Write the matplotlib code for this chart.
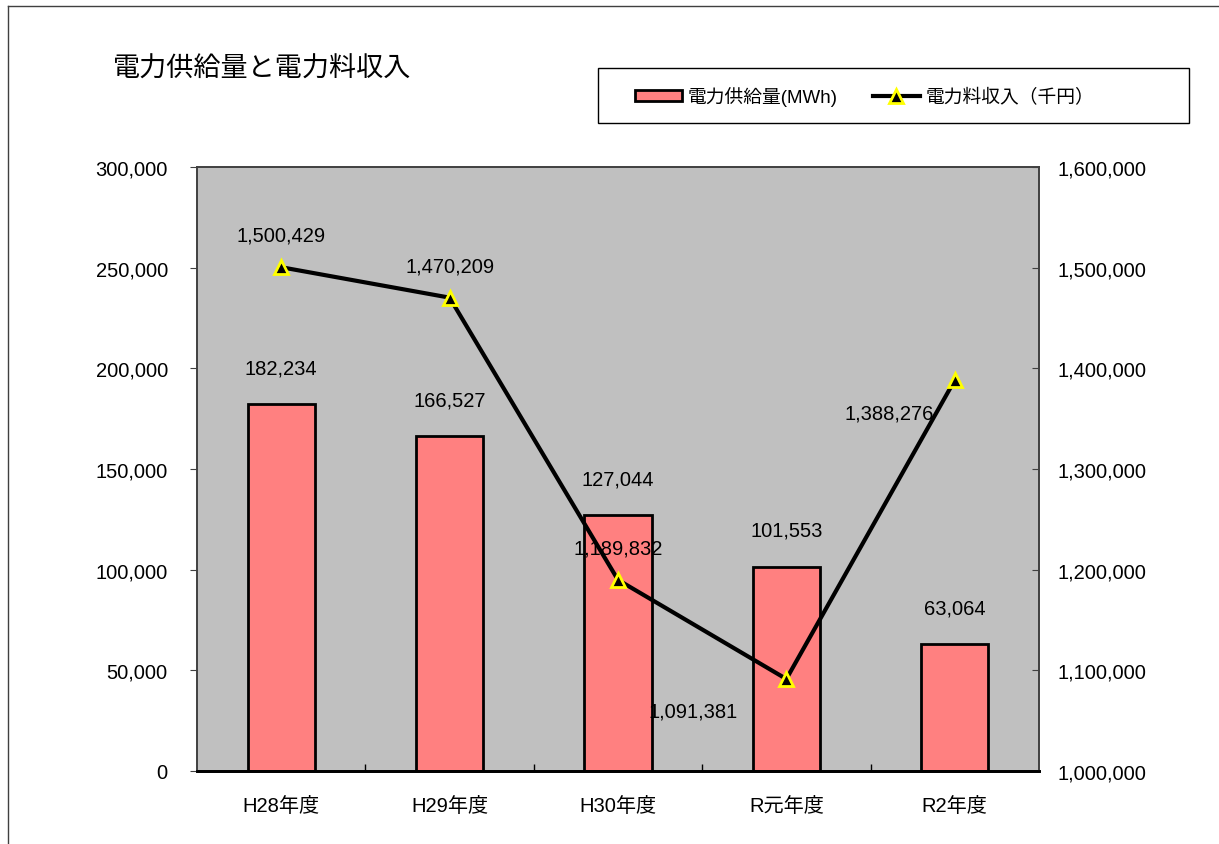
import matplotlib.pyplot as plt
from matplotlib.lines import Line2D
from matplotlib.patches import Rectangle
from matplotlib.ticker import FuncFormatter

plt.rcParams['font.family'] = ['Liberation Sans', 'Noto Sans CJK JP', 'DejaVu Sans']

# 年度別データ
nendo = ['H28年度', 'H29年度', 'H30年度', 'R元年度', 'R2年度']
kyokyu = [182234, 166527, 127044, 101553, 63064]        # 電力供給量 (MWh)
ryokin = [1500429, 1470209, 1189832, 1091381, 1388276]  # 電力料収入 (千円)
# 料金ラベルの位置 (点単位のずれ)
ryokin_ofs = [(0, 23), (0, 23), (0, 23), (-67, -23), (-47, -24)]

fmt = FuncFormatter(lambda v, p: f'{v:,.0f}')

fig = plt.figure(figsize=(12.19, 8.45), dpi=100)
ax = fig.add_axes([0.1616, 0.0864, 0.6907, 0.7148])
ax2 = ax.twinx()

x = range(len(nendo))
ax.set_facecolor('#C0C0C0')
ax.bar(x, kyokyu, width=0.4, color='#FF8080', edgecolor='black', linewidth=2,
       zorder=2, label='電力供給量(MWh)')
for i, v in enumerate(kyokyu):
    ax.annotate(f'{v:,}', (i, v), xytext=(0, 26), textcoords='offset points',
                ha='center', va='center', fontsize=14.5)

ax2.plot(x, ryokin, color='black', lw=3, marker='^', ms=10, mfc='black',
         mec='#FFFF00', mew=2, zorder=3, label='電力料収入（千円）')
for i, v in enumerate(ryokin):
    ax2.annotate(f'{v:,}', (i, v), xytext=ryokin_ofs[i], textcoords='offset points',
                 ha='center', va='center', fontsize=14.5)

ax.set_xlim(-0.5, 4.5)
ax.set_ylim(0, 300000)
ax2.set_ylim(1000000, 1600000)
ax.set_yticks(range(0, 300001, 50000))
ax2.set_yticks(range(1000000, 1600001, 100000))
ax.yaxis.set_major_formatter(fmt)
ax2.yaxis.set_major_formatter(fmt)

ax.set_xticks([i + 0.5 for i in range(4)])
ax.set_xticklabels([])
ax.set_xticks(list(x), minor=True)
ax.set_xticklabels(nendo, minor=True)
ax.tick_params(axis='x', which='major', direction='in', length=5, width=1)
ax.tick_params(axis='x', which='minor', length=0, pad=18, labelsize=14.5)
ax.tick_params(axis='y', direction='out', length=5, pad=16, labelsize=14.5, colors='#404040',
               labelcolor='black')
ax2.tick_params(axis='y', direction='in', length=5, pad=13, labelsize=14.5, colors='#404040',
                labelcolor='black')

for a in (ax, ax2):
    for s in ('left', 'right', 'top'):
        a.spines[s].set_color('#404040')
        a.spines[s].set_linewidth(1.2)
    a.spines['bottom'].set_color('black')
    a.spines['bottom'].set_linewidth(2)

fig.text(113 / 1219, 1 - 70 / 845, '電力供給量と電力料収入', fontsize=19.5, va='center', ha='left')

# 凡例 (枠は別に描く)
fig.add_artist(Rectangle((598 / 1219, 1 - 124 / 845), 591 / 1219, 55 / 845,
                         transform=fig.transFigure, fill=False, edgecolor='black', lw=1))
h1, l1 = ax.get_legend_handles_labels()
h2, l2 = ax2.get_legend_handles_labels()
fig.legend(h1 + h2, l1 + l2, loc='center left', ncol=2, fontsize=13.5,
           bbox_to_anchor=(618 / 1219, 1 - 97 / 845), frameon=False,
           handlelength=2.5, handleheight=0.55, columnspacing=1.9, handletextpad=0.3)

# 外枠
fig.add_artist(Line2D([8 / 1219, 8 / 1219], [0, 1 - 7 / 845], color='#404040', lw=1))
fig.add_artist(Line2D([8 / 1219, 1], [1 - 7 / 845, 1 - 7 / 845], color='#404040', lw=1))

fig.savefig('out.png', dpi=100)
